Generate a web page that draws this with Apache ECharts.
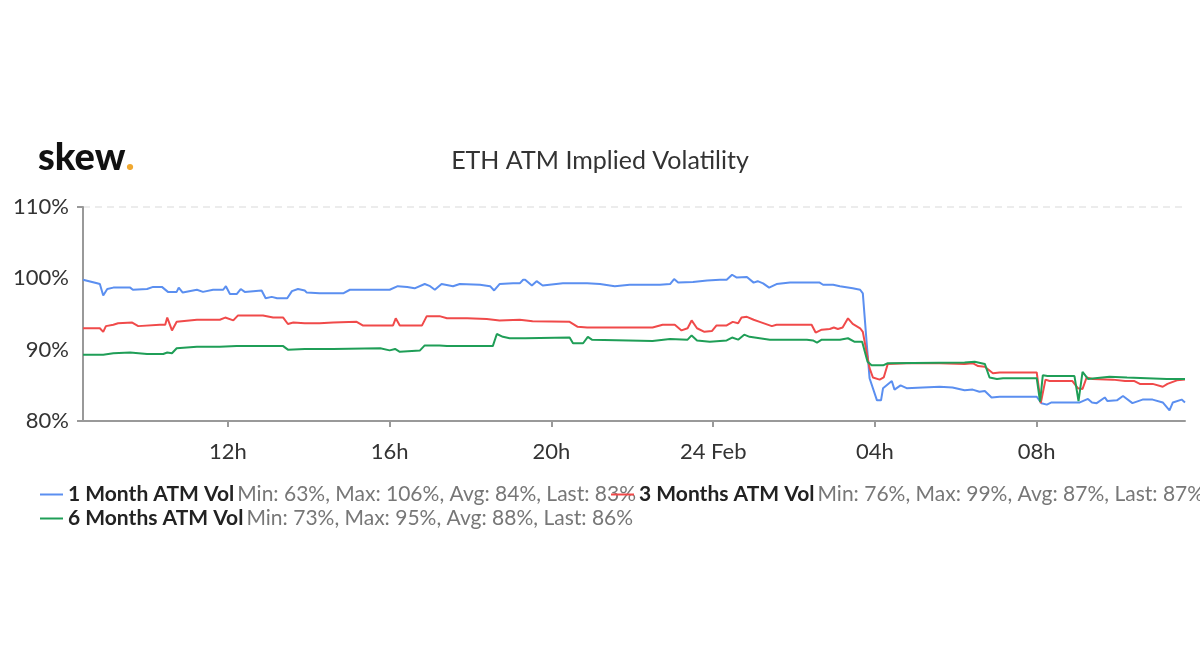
<!DOCTYPE html>
<html><head><meta charset="utf-8">
<script src="https://cdn.jsdelivr.net/npm/echarts@6/dist/echarts.min.js"></script>
<style>html,body{margin:0;padding:0;background:#fff}#c{width:1200px;height:670px}</style>
</head><body><div id="c"></div>
<script>
// ---- data (times: "day HH:MM", Feb 2020) ----
const seriesNames = ['1 Month ATM Vol', '3 Months ATM Vol', '6 Months ATM Vol'];
const seriesStats = [
  'Min: 63%, Max: 106%, Avg: 84%, Last: 83%',
  'Min: 76%, Max: 99%, Avg: 87%, Last: 87%',
  'Min: 73%, Max: 95%, Avg: 88%, Last: 86%'
];
const tickHours = [12, 16, 20, 24, 28, 32];
const tickLabels = ['12h', '16h', '20h', '24 Feb', '04h', '08h'];
const yTicks = ['80%', '90%', '100%', '110%'];

const vol1M = [
['23 08:25',99.8],['23 08:46',99.3],['23 08:50',99.2],['23 08:55',97.6],['23 09:01',98.5],['23 09:10',98.7],['23 09:35',98.7],['23 09:39',98.4],['23 10:00',98.5],['23 10:09',98.8],['23 10:22',98.8],['23 10:31',98.1],['23 10:44',98.1],['23 10:47',98.7],['23 10:53',98.0],['23 11:14',98.4],['23 11:23',98.1],['23 11:38',98.4],['23 11:53',98.4],['23 11:57',98.9],['23 12:03',97.8],['23 12:13',97.8],['23 12:19',98.5],['23 12:25',98.1],['23 12:50',98.3],['23 12:56',97.2],['23 13:05',97.4],['23 13:13',97.2],['23 13:28',97.2],['23 13:35',98.2],['23 13:44',98.5],['23 13:54',98.3],['23 13:57',98.0],['23 14:16',97.9],['23 14:51',97.9],['23 15:01',98.4],['23 15:26',98.4],['23 16:00',98.4],['23 16:12',98.9],['23 16:26',98.8],['23 16:37',98.6],['23 16:52',99.2],['23 17:00',98.9],['23 17:07',98.4],['23 17:17',99.2],['23 17:34',98.9],['23 17:44',99.2],['23 18:14',99.1],['23 18:29',98.9],['23 18:35',98.3],['23 18:43',99.2],['23 19:03',99.3],['23 19:13',99.3],['23 19:18',99.8],['23 19:21',99.8],['23 19:31',99.0],['23 19:38',99.6],['23 19:47',99.0],['23 20:17',99.3],['23 20:53',99.3],['23 21:12',99.2],['23 21:34',98.9],['23 21:56',99.1],['23 22:22',99.1],['23 22:41',99.1],['23 22:56',99.2],['23 23:02',99.9],['23 23:08',99.4],['23 23:30',99.5],['23 23:51',99.7],['24 00:10',99.8],['24 00:20',99.8],['24 00:28',100.5],['24 00:35',100.1],['24 00:50',100.2],['24 01:00',99.4],['24 01:06',99.6],['24 01:14',99.3],['24 01:23',98.7],['24 01:34',99.2],['24 01:54',99.4],['24 02:19',99.4],['24 02:38',99.4],['24 02:43',99.1],['24 02:58',99.1],['24 03:08',98.9],['24 03:27',98.6],['24 03:38',98.4],['24 03:42',97.9],['24 03:48',90.6],['24 03:52',86.0],['24 04:03',82.9],['24 04:09',82.9],['24 04:12',84.6],['24 04:25',85.6],['24 04:29',84.4],['24 04:38',85.0],['24 04:47',84.6],['24 05:11',84.7],['24 05:36',84.8],['24 05:55',84.7],['24 06:13',84.3],['24 06:25',84.4],['24 06:35',84.1],['24 06:43',84.2],['24 06:53',83.3],['24 07:05',83.4],['24 08:00',83.4],['24 08:07',82.5],['24 08:15',82.3],['24 08:22',82.6],['24 08:53',82.6],['24 09:04',82.6],['24 09:16',83.1],['24 09:22',82.6],['24 09:29',82.5],['24 09:41',83.3],['24 09:45',82.8],['24 09:59',82.9],['24 10:08',83.5],['24 10:22',82.5],['24 10:37',83.0],['24 10:52',83.0],['24 11:07',82.6],['24 11:17',81.5],['24 11:22',82.6],['24 11:35',83.0],['24 11:40',82.6]
];
const vol3M = [
['23 08:25',93.0],['23 08:50',93.0],['23 08:55',92.5],['23 08:59',93.3],['23 09:10',93.5],['23 09:17',93.7],['23 09:38',93.8],['23 09:47',93.3],['23 10:19',93.5],['23 10:27',93.5],['23 10:30',94.5],['23 10:37',92.7],['23 10:44',93.9],['23 11:14',94.2],['23 11:48',94.2],['23 11:56',94.5],['23 12:08',94.1],['23 12:15',94.8],['23 12:52',94.8],['23 13:07',94.5],['23 13:22',94.5],['23 13:29',93.6],['23 13:37',93.8],['23 13:54',93.7],['23 14:16',93.7],['23 14:36',93.8],['23 15:11',93.9],['23 15:20',93.4],['23 16:05',93.4],['23 16:09',94.4],['23 16:15',93.4],['23 16:48',93.4],['23 16:55',94.7],['23 17:14',94.7],['23 17:25',94.4],['23 17:55',94.4],['23 18:24',94.3],['23 18:43',94.1],['23 19:13',94.2],['23 19:32',94.0],['23 20:27',93.9],['23 20:39',93.2],['23 20:53',93.1],['23 22:30',93.1],['23 22:45',93.5],['23 23:03',93.5],['23 23:13',92.7],['23 23:22',93.0],['23 23:28',94.1],['23 23:36',93.0],['23 23:47',92.5],['23 23:58',92.6],['24 00:05',93.4],['24 00:20',93.4],['24 00:29',93.9],['24 00:37',93.7],['24 00:42',94.5],['24 00:50',94.6],['24 01:00',94.2],['24 01:09',93.9],['24 01:27',93.3],['24 01:34',93.5],['24 02:26',93.5],['24 02:32',92.4],['24 02:41',92.8],['24 02:53',92.9],['24 02:59',93.1],['24 03:05',92.9],['24 03:12',93.1],['24 03:20',94.4],['24 03:27',93.6],['24 03:38',93.0],['24 03:42',92.5],['24 03:52',87.4],['24 03:57',86.1],['24 04:07',85.8],['24 04:13',86.1],['24 04:19',88.0],['24 04:47',88.1],['24 05:36',88.1],['24 06:13',88.0],['24 06:25',88.1],['24 06:33',87.7],['24 06:43',87.6],['24 06:55',86.7],['24 07:05',86.8],['24 08:00',86.8],['24 08:06',82.5],['24 08:13',85.8],['24 08:19',85.6],['24 08:53',85.6],['24 09:01',84.6],['24 09:08',84.5],['24 09:14',86.1],['24 09:23',85.9],['24 09:53',85.8],['24 10:11',85.6],['24 10:25',85.6],['24 10:33',85.2],['24 10:52',85.2],['24 11:07',84.8],['24 11:14',85.2],['24 11:28',85.7],['24 11:40',85.8]
];
const vol6M = [
['23 08:25',89.3],['23 08:55',89.3],['23 09:10',89.5],['23 09:35',89.6],['23 10:00',89.4],['23 10:24',89.4],['23 10:30',89.6],['23 10:37',89.5],['23 10:44',90.2],['23 11:14',90.4],['23 11:48',90.4],['23 12:13',90.5],['23 12:52',90.5],['23 13:22',90.5],['23 13:29',90.0],['23 13:54',90.1],['23 14:36',90.1],['23 15:46',90.2],['23 16:00',89.9],['23 16:08',90.1],['23 16:15',89.7],['23 16:45',89.9],['23 16:52',90.6],['23 17:14',90.6],['23 17:25',90.5],['23 18:33',90.5],['23 18:39',92.2],['23 18:48',91.8],['23 18:58',91.6],['23 19:21',91.6],['23 20:27',91.7],['23 20:32',90.9],['23 20:47',90.9],['23 20:54',91.8],['23 21:00',91.4],['23 22:30',91.2],['23 22:56',91.5],['23 23:22',91.4],['23 23:28',92.0],['23 23:36',91.3],['23 23:55',91.1],['24 00:20',91.3],['24 00:28',91.7],['24 00:37',91.4],['24 00:46',92.1],['24 00:54',91.8],['24 01:24',91.4],['24 02:19',91.4],['24 02:28',91.3],['24 02:34',91.0],['24 02:41',91.4],['24 03:08',91.4],['24 03:20',91.6],['24 03:30',91.1],['24 03:41',91.1],['24 03:49',88.3],['24 03:55',87.8],['24 04:12',87.8],['24 04:19',88.1],['24 06:13',88.2],['24 06:28',88.3],['24 06:43',88.0],['24 06:50',86.1],['24 07:01',85.9],['24 07:10',86.0],['24 08:00',86.0],['24 08:05',82.7],['24 08:09',86.4],['24 08:16',86.3],['24 08:56',86.3],['24 09:02',82.8],['24 09:08',86.9],['24 09:16',85.9],['24 09:48',86.2],['24 10:14',86.1],['24 11:13',85.9],['24 11:22',85.9],['24 11:40',85.9]
];
const colors = ['#5b8ff0', '#f04a4a', '#1f9e57'];

// hours since 23 Feb 00:00
function toHours(s) {
  const [d, hm] = s.split(' ');
  const [h, m] = hm.split(':').map(Number);
  return (Number(d) - 23) * 24 + h + m / 60;
}
const conv = arr => arr.map(p => [toHours(p[0]), p[1]]);
const allData = [vol1M, vol3M, vol6M].map(conv);

const FONT = 'Lato';
const chart = echarts.init(document.getElementById('c'));
const legendFmt = name => `{n|${name}} {s|${seriesStats[seriesNames.indexOf(name)]}}`;
const legendRich = {
  n: { fontSize: 21, fontFamily: FONT, color: '#222', fontWeight: 'bold' },
  s: { fontSize: 21, fontFamily: FONT, color: '#777' }
};
chart.setOption({
  animation: false,
  backgroundColor: '#fff',
  textStyle: { fontFamily: FONT },
  title: [
    { text: '{a|skew}{b|.}', left: 33, top: 134,
      textStyle: { rich: {
        a: { fontSize: 38, fontWeight: 900, color: '#111', fontFamily: FONT },
        b: { fontSize: 38, fontWeight: 900, color: '#f0a830', fontFamily: FONT } } } },
    { text: 'ETH ATM Implied Volatility', left: 'center', top: 143,
      textStyle: { fontSize: 25, fontWeight: 'normal', color: '#333', fontFamily: FONT } }
  ],
  legend: [
    { data: seriesNames.slice(0, 2), left: 35, top: 479, width: 3000, itemGap: -25,
      icon: 'rect', itemWidth: 23, itemHeight: 2, formatter: legendFmt,
      textStyle: { rich: legendRich } },
    { data: seriesNames.slice(2), left: 35, top: 503,
      icon: 'rect', itemWidth: 23, itemHeight: 2, formatter: legendFmt,
      textStyle: { rich: legendRich } }
  ],
  grid: { left: 83, right: 15, top: 207, bottom: 249 },
  xAxis: {
    type: 'value', min: 8 + 25 / 60, max: 35 + 40 / 60,
    axisLine: { lineStyle: { color: '#999', width: 2 } },
    axisTick: { customValues: tickHours, length: 6, lineStyle: { color: '#999', width: 2 } },
    axisLabel: { customValues: tickHours, margin: 20, fontSize: 22, color: '#333', fontFamily: FONT,
      formatter: v => tickLabels[tickHours.indexOf(Math.round(v))] },
    splitLine: { show: false }
  },
  yAxis: {
    type: 'value', min: 80, max: 110, interval: 10,
    axisLine: { show: true, lineStyle: { color: '#999', width: 2 } },
    axisTick: { show: true, customValues: [80, 110], length: 6, lineStyle: { color: '#999', width: 2 } },
    axisLabel: { margin: 14, fontSize: 22, color: '#333', fontFamily: FONT,
      formatter: v => yTicks[Math.round((v - 80) / 10)] },
    splitLine: { lineStyle: { color: '#e6e6e6', width: 1.5, type: [7, 5] } }
  },
  series: seriesNames.map((n, i) => ({
    name: n, type: 'line', data: allData[i], showSymbol: false,
    color: colors[i], lineStyle: { width: 2, color: colors[i] }
  }))
});
</script></body></html>
